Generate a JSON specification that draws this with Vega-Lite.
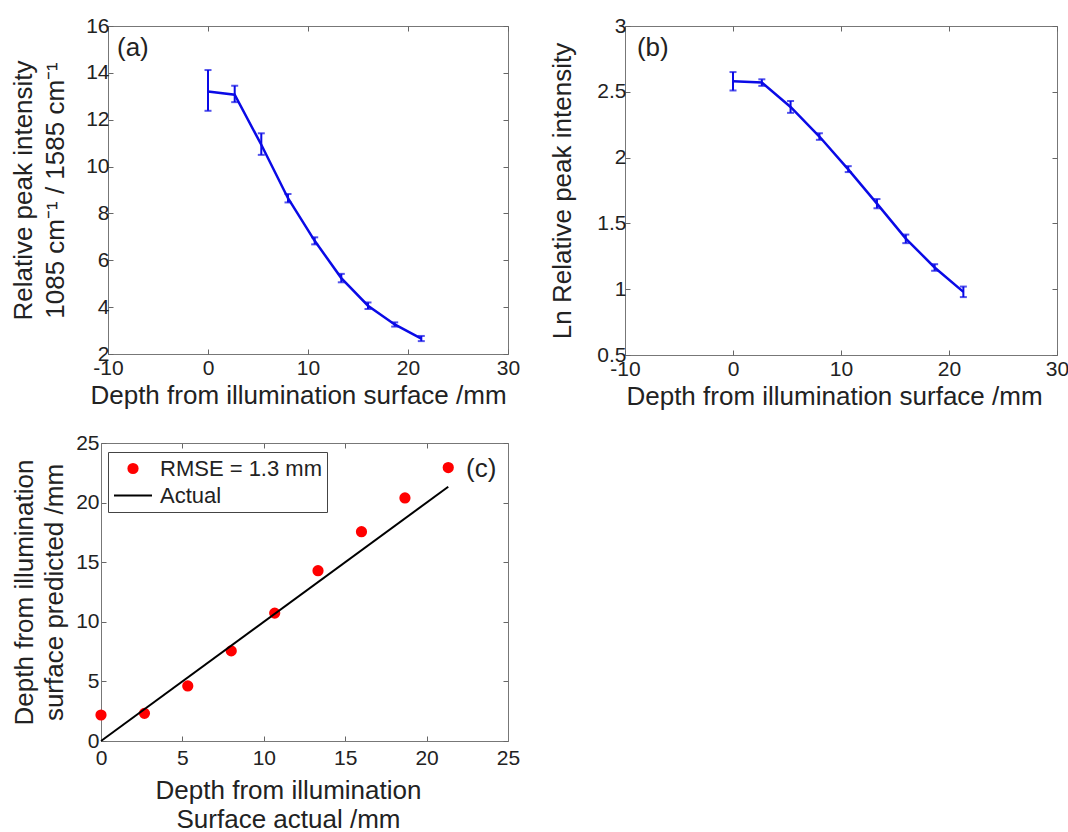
{
  "$schema": "https://vega.github.io/schema/vega-lite/v6.json",
  "background": "white",
  "padding": {"left": 10, "top": 14, "right": 0, "bottom": 0},
  "config": {
    "font": "Liberation Sans",
    "view": {"stroke": "#777777", "strokeWidth": 1},
    "axis": {
      "grid": false, "domain": false, "tickColor": "#666666", "tickSize": -5, "tickWidth": 1,
      "domainColor": "#777777", "domainWidth": 1,
      "labelFontSize": 21, "titleFontSize": 26, "labelColor": "#222222", "titleColor": "#222222",
      "titleFontWeight": "normal", "labelPadding": 4, "labelFlush": false, "labelOverlap": false
    },
    "axisX": {"labelPadding": 8},
    "text": {"font": "Liberation Sans"}
  },
  "datasets": {
    "depth": [
      {"depth": 0, "ratio": 13.2, "ratio_lo": 12.38, "ratio_hi": 14.12, "ln": 2.58, "ln_lo": 2.51, "ln_hi": 2.65},
      {"depth": 2.67, "ratio": 13.07, "ratio_lo": 12.75, "ratio_hi": 13.45, "ln": 2.57, "ln_lo": 2.545, "ln_hi": 2.595},
      {"depth": 5.33, "ratio": 10.93, "ratio_lo": 10.5, "ratio_hi": 11.42, "ln": 2.385, "ln_lo": 2.34, "ln_hi": 2.43},
      {"depth": 8, "ratio": 8.65, "ratio_lo": 8.47, "ratio_hi": 8.83, "ln": 2.16, "ln_lo": 2.135, "ln_hi": 2.185},
      {"depth": 10.67, "ratio": 6.83, "ratio_lo": 6.68, "ratio_hi": 6.98, "ln": 1.91, "ln_lo": 1.89, "ln_hi": 1.935},
      {"depth": 13.33, "ratio": 5.24, "ratio_lo": 5.06, "ratio_hi": 5.42, "ln": 1.65, "ln_lo": 1.615, "ln_hi": 1.685},
      {"depth": 16, "ratio": 4.06, "ratio_lo": 3.92, "ratio_hi": 4.2, "ln": 1.385, "ln_lo": 1.35, "ln_hi": 1.415},
      {"depth": 18.67, "ratio": 3.26, "ratio_lo": 3.17, "ratio_hi": 3.35, "ln": 1.165, "ln_lo": 1.14, "ln_hi": 1.19},
      {"depth": 21.33, "ratio": 2.66, "ratio_lo": 2.55, "ratio_hi": 2.77, "ln": 0.98, "ln_lo": 0.94, "ln_hi": 1.02}
    ],
    "prediction": [
      {"actual": 0, "predicted": 2.18, "series": "RMSE = 1.3 mm"},
      {"actual": 2.67, "predicted": 2.32, "series": "RMSE = 1.3 mm"},
      {"actual": 5.33, "predicted": 4.62, "series": "RMSE = 1.3 mm"},
      {"actual": 8, "predicted": 7.56, "series": "RMSE = 1.3 mm"},
      {"actual": 10.67, "predicted": 10.73, "series": "RMSE = 1.3 mm"},
      {"actual": 13.33, "predicted": 14.29, "series": "RMSE = 1.3 mm"},
      {"actual": 16, "predicted": 17.56, "series": "RMSE = 1.3 mm"},
      {"actual": 18.67, "predicted": 20.39, "series": "RMSE = 1.3 mm"},
      {"actual": 21.33, "predicted": 22.94, "series": "RMSE = 1.3 mm"}
    ],
    "identity": [
      {"actual": 0, "predicted": 0, "series": "Actual"},
      {"actual": 21.33, "predicted": 21.33, "series": "Actual"}
    ]
  },
  "columns": 2,
  "spacing": {"row": 22, "column": 28},
  "resolve": {"legend": {"color": "independent", "stroke": "independent", "shape": "independent", "size": "independent"}},
  "concat": [
    {
      "width": 400, "height": 328,
      "resolve": {"axis": {"x": "independent", "y": "independent"}},
      "layer": [
        {
          "data": {"name": "depth"},
          "mark": {"type": "line", "color": "#0a0ae6", "strokeWidth": 2.5},
          "encoding": {
            "x": {"field": "depth", "type": "quantitative", "scale": {"domain": [-10, 30], "nice": false, "zero": false},
                  "axis": {"values": [-10, 0, 10, 20, 30], "labelExpr": "'' + datum.value", "title": "Depth from illumination surface /mm", "titleX": 190, "titlePadding": 4}},
            "y": {"field": "ratio", "type": "quantitative", "scale": {"domain": [2, 16], "nice": false, "zero": false},
                  "axis": {"values": [2, 4, 6, 8, 10, 12, 14, 16], "labelExpr": "'' + datum.value", "title": ["Relative peak intensity", "1085 cm⁻¹ / 1585 cm⁻¹"], "titleLineHeight": 32, "titlePadding": 17}}
          }
        },
        {
          "data": {"name": "depth"},
          "mark": {"type": "rule", "color": "#0a0ae6", "strokeWidth": 2},
          "encoding": {
            "x": {"field": "depth", "type": "quantitative", "axis": null},
            "y": {"field": "ratio_lo", "type": "quantitative", "axis": null},
            "y2": {"field": "ratio_hi"}
          }
        },
        {
          "data": {"name": "depth"},
          "mark": {"type": "tick", "orient": "horizontal", "color": "#0a0ae6", "size": 7, "thickness": 2},
          "encoding": {
            "x": {"field": "depth", "type": "quantitative", "axis": null},
            "y": {"field": "ratio_lo", "type": "quantitative", "axis": null}
          }
        },
        {
          "data": {"name": "depth"},
          "mark": {"type": "tick", "orient": "horizontal", "color": "#0a0ae6", "size": 7, "thickness": 2},
          "encoding": {
            "x": {"field": "depth", "type": "quantitative", "axis": null},
            "y": {"field": "ratio_hi", "type": "quantitative", "axis": null}
          }
        },
        {
          "data": {"name": "depth"},
          "mark": {"type": "line", "opacity": 0},
          "encoding": {
            "x": {"field": "depth", "type": "quantitative", "axis": {"orient": "top", "values": [-10, 0, 10, 20, 30], "labels": false, "title": null}},
            "y": {"field": "ratio", "type": "quantitative", "axis": {"orient": "right", "values": [2, 4, 6, 8, 10, 12, 14, 16], "labels": false, "title": null}}
          }
        },
        {
          "data": {"values": [{}]},
          "mark": {"type": "text", "text": "(a)", "align": "left", "baseline": "middle", "fontSize": 26, "color": "#222222"},
          "encoding": {
            "x": {"datum": -9.1, "type": "quantitative", "axis": null},
            "y": {"datum": 15.06, "type": "quantitative", "axis": null}
          }
        }
      ]
    },
    {
      "width": 432, "height": 329,
      "resolve": {"axis": {"x": "independent", "y": "independent"}},
      "layer": [
        {
          "data": {"name": "depth"},
          "mark": {"type": "line", "color": "#0a0ae6", "strokeWidth": 2.5},
          "encoding": {
            "x": {"field": "depth", "type": "quantitative", "scale": {"domain": [-10, 30], "nice": false, "zero": false},
                  "axis": {"values": [-10, 0, 10, 20, 30], "labelExpr": "'' + datum.value", "title": "Depth from illumination surface /mm", "titleX": 209, "titlePadding": 4}},
            "y": {"field": "ln", "type": "quantitative", "scale": {"domain": [0.5, 3], "nice": false, "zero": false},
                  "axis": {"values": [0.5, 1, 1.5, 2, 2.5, 3], "labelExpr": "'' + datum.value", "title": "Ln Relative peak intensity", "titlePadding": 21}}
          }
        },
        {
          "data": {"name": "depth"},
          "mark": {"type": "rule", "color": "#0a0ae6", "strokeWidth": 2},
          "encoding": {
            "x": {"field": "depth", "type": "quantitative", "axis": null},
            "y": {"field": "ln_lo", "type": "quantitative", "axis": null},
            "y2": {"field": "ln_hi"}
          }
        },
        {
          "data": {"name": "depth"},
          "mark": {"type": "tick", "orient": "horizontal", "color": "#0a0ae6", "size": 7, "thickness": 2},
          "encoding": {
            "x": {"field": "depth", "type": "quantitative", "axis": null},
            "y": {"field": "ln_lo", "type": "quantitative", "axis": null}
          }
        },
        {
          "data": {"name": "depth"},
          "mark": {"type": "tick", "orient": "horizontal", "color": "#0a0ae6", "size": 7, "thickness": 2},
          "encoding": {
            "x": {"field": "depth", "type": "quantitative", "axis": null},
            "y": {"field": "ln_hi", "type": "quantitative", "axis": null}
          }
        },
        {
          "data": {"name": "depth"},
          "mark": {"type": "line", "opacity": 0},
          "encoding": {
            "x": {"field": "depth", "type": "quantitative", "axis": {"orient": "top", "values": [-10, 0, 10, 20, 30], "labels": false, "title": null}},
            "y": {"field": "ln", "type": "quantitative", "axis": {"orient": "right", "values": [0.5, 1, 1.5, 2, 2.5, 3], "labels": false, "title": null}}
          }
        },
        {
          "data": {"values": [{}]},
          "mark": {"type": "text", "text": "(b)", "align": "left", "baseline": "middle", "fontSize": 26, "color": "#222222"},
          "encoding": {
            "x": {"datum": -8.9, "type": "quantitative", "axis": null},
            "y": {"datum": 2.83, "type": "quantitative", "axis": null}
          }
        }
      ]
    },
    {
      "width": 400, "height": 298,
      "view": {"stroke": null},
      "resolve": {"axis": {"x": "independent", "y": "independent"}},
      "layer": [
        {
          "data": {"name": "prediction"},
          "mark": {"type": "point", "filled": true, "opacity": 1},
          "encoding": {
            "x": {"field": "actual", "type": "quantitative", "scale": {"domain": [0, 25], "range": [-7, 400], "nice": false, "zero": false},
                  "axis": {"values": [0, 5, 10, 15, 20, 25], "labelExpr": "'' + datum.value", "title": ["Depth from illumination", "Surface actual /mm"], "titleLineHeight": 29, "titleX": 180, "titlePadding": 9, "labelPadding": 11, "domain": true}},
            "y": {"field": "predicted", "type": "quantitative", "scale": {"domain": [0, 25], "nice": false, "zero": false},
                  "axis": {"values": [0, 5, 10, 15, 20, 25], "labelExpr": "'' + datum.value", "title": ["Depth from illumination", "surface predicted /mm"], "titleLineHeight": 30, "titlePadding": 8, "labelPadding": 7, "offset": 7, "domain": true}},
            "color": {
              "field": "series", "type": "nominal",
              "scale": {"domain": ["RMSE = 1.3 mm", "Actual"], "range": ["#ff0000", "#000000"]},
              "legend": {
                "title": null, "orient": "none", "legendX": 0, "legendY": 9, "columns": 1,
                "strokeColor": "#444444", "fillColor": "#ffffff", "padding": 5,
                "clipHeight": 23, "rowPadding": 4, "labelOffset": 7, "labelLimit": 400,
                "labelFontSize": 22, "labelColor": "#222222", "symbolStrokeWidth": 2
              }
            },
            "stroke": {
              "field": "series", "type": "nominal",
              "scale": {"domain": ["RMSE = 1.3 mm", "Actual"], "range": ["#ff0000", "#000000"]},
              "legend": {"title": null}
            },
            "shape": {
              "field": "series", "type": "nominal",
              "scale": {"domain": ["RMSE = 1.3 mm", "Actual"], "range": ["circle", "stroke"]},
              "legend": {"title": null}
            },
            "size": {
              "field": "series", "type": "nominal",
              "scale": {"type": "ordinal", "domain": ["RMSE = 1.3 mm", "Actual"], "range": [85, 1444]},
              "legend": {"title": null}
            }
          }
        },
        {
          "data": {"name": "identity"},
          "mark": {"type": "line", "strokeWidth": 2},
          "encoding": {
            "x": {"field": "actual", "type": "quantitative", "axis": null},
            "y": {"field": "predicted", "type": "quantitative", "axis": null},
            "color": {"field": "series", "type": "nominal"}
          }
        },
        {
          "data": {"name": "identity"},
          "mark": {"type": "point", "opacity": 0},
          "encoding": {
            "x": {"field": "actual", "type": "quantitative", "axis": {"orient": "top", "values": [0, 5, 10, 15, 20, 25], "labels": false, "title": null, "domain": true}},
            "y": {"field": "predicted", "type": "quantitative", "axis": {"orient": "right", "values": [0, 5, 10, 15, 20, 25], "labels": false, "title": null, "domain": true}}
          }
        },
        {
          "data": {"values": [{}]},
          "mark": {"type": "text", "text": "(c)", "align": "left", "baseline": "middle", "fontSize": 26, "color": "#222222"},
          "encoding": {
            "x": {"datum": 22.42, "type": "quantitative", "axis": null},
            "y": {"datum": 22.82, "type": "quantitative", "axis": null}
          }
        }
      ]
    }
  ]
}
